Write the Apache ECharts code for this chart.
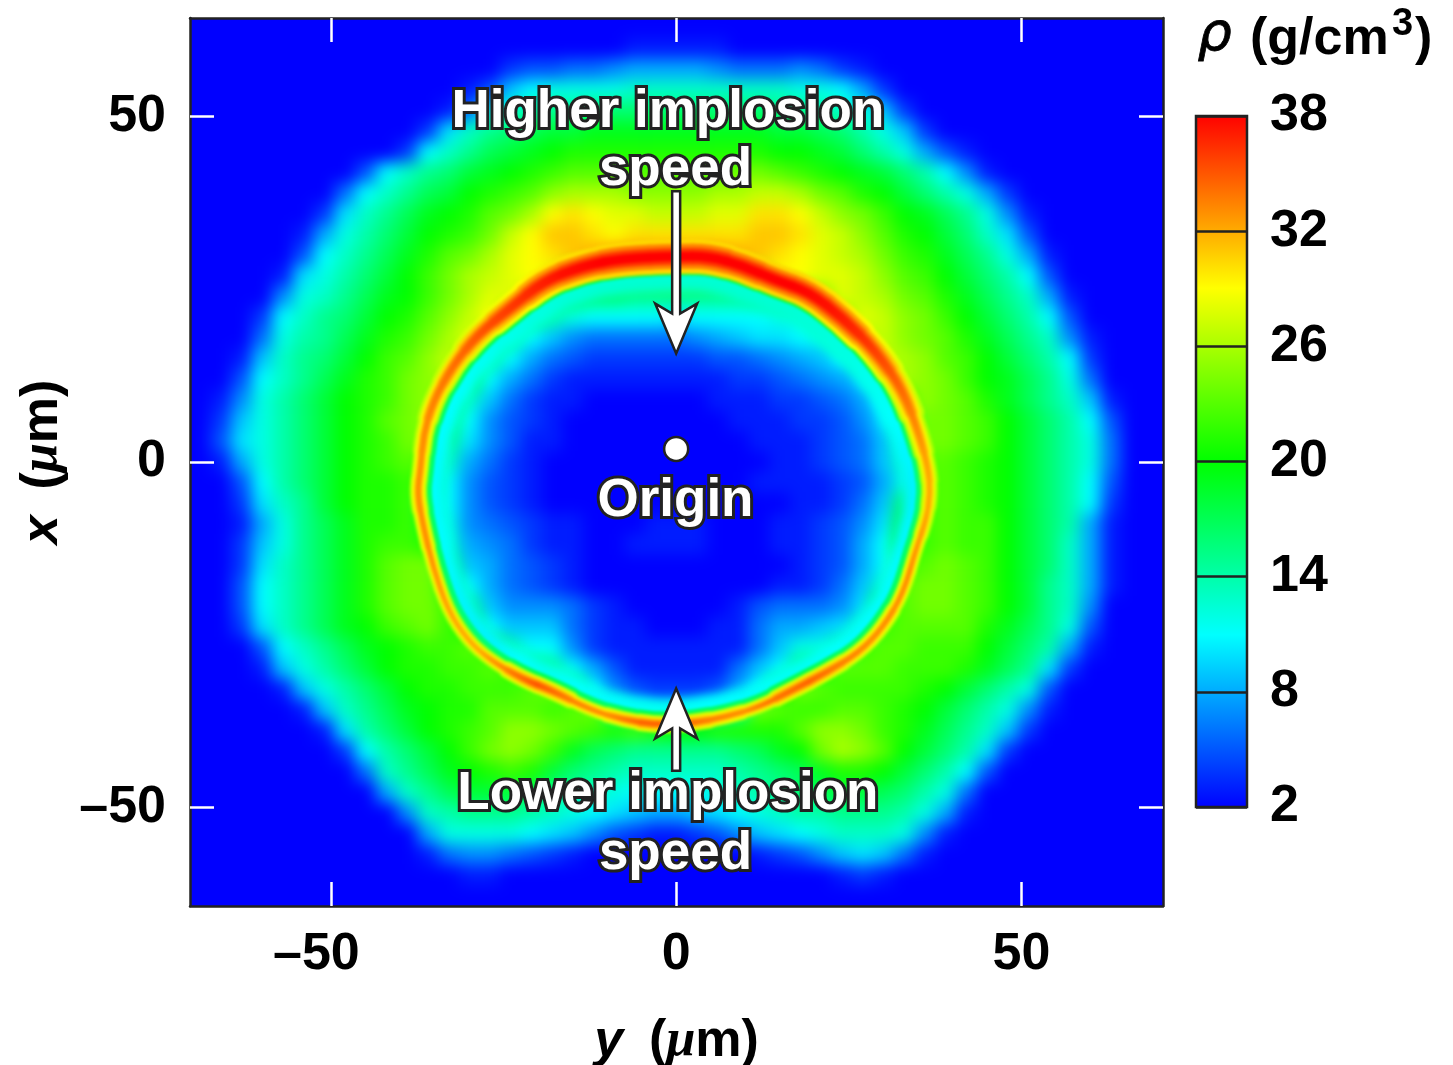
<!DOCTYPE html>
<html><head><meta charset="utf-8">
<style>
html,body{margin:0;padding:0;background:#fff}
#c{width:1453px;height:1065px}
canvas[data-zr-dom-id="zr_-3"]{filter:blur(8px);clip-path:inset(18px 290px 159px 190px)}
canvas[data-zr-dom-id="zr_-2"]{filter:blur(5px);clip-path:inset(18px 290px 159px 190px)}
canvas[data-zr-dom-id="zr_-1"]{filter:blur(1.8px);clip-path:inset(18px 290px 159px 190px)}
</style>
<script src="https://cdn.jsdelivr.net/npm/echarts@6/dist/echarts.min.js"></script>
</head><body><div id="c"></div>
<script>
// transverse position y (um) of each column, axial position x (um) of each row
const yCells=[-69,-66,-63,-60,-57,-54,-51,-48,-45,-42,-39,-36,-33,-30,-27,-24,-21,-18,-15,-12,-9,-6,-3,0,3,6,9,12,15,18,21,24,27,30,33,36,39,42,45,48,51,54,57,60,63,66,69];
const xCells=[63,60,57,54,51,48,45,42,39,36,33,30,27,24,21,18,15,12,9,6,3,0,-3,-6,-9,-12,-15,-18,-21,-24,-27,-30,-33,-36,-39,-42,-45,-48,-51,-54,-57,-60,-63];
// density (g/cm3), one row per xCells entry
const rho=[
[2,2,2,2,2,2,2,2,2,2,2,2,2,2,2,2,2,2,2,2,2,2,2,2,2,2,2,2,2,2,2,2,2,2,2,2,2,2,2,2,2,2,2,2,2,2,2],
[2,2,2,2,2,2,2,2,2,2,2,2,2,2,2,2,2,2,2,2,2,3,3,3,3,3,2,2,2,2,2,2,2,2,2,2,2,2,2,2,2,2,2,2,2,2,2],
[2,2,2,2,2,2,2,2,2,2,2,2,2,2,2,4,5,5,6,6,7,8,8,8,8,7,6,6,6,7,6,4,3,2,2,2,2,2,2,2,2,2,2,2,2,2,2],
[2,2,2,2,2,2,2,2,2,2,2,2,2,3,5,9,11,12,12,12,12,13,13,13,13,13,13,13,13,12,12,11,8,4,2,2,2,2,2,2,2,2,2,2,2,2,2],
[2,2,2,2,2,2,2,2,2,2,2,2,3,6,11,13,14,15,15,16,16,16,16,16,16,16,16,16,15,15,14,13,12,9,4,2,2,2,2,2,2,2,2,2,2,2,2],
[2,2,2,2,2,2,2,2,2,2,2,4,10,13,15,16,17,18,18,19,19,19,19,19,19,19,19,19,18,18,17,16,14,12,9,4,2,2,2,2,2,2,2,2,2,2,2],
[2,2,2,2,2,2,2,2,2,2,4,11,13,15,17,18,19,20,21,21,21,21,21,21,21,21,21,21,20,20,19,18,16,14,12,8,5,3,2,2,2,2,2,2,2,2,2],
[2,2,2,2,2,2,2,2,5,11,13,15,16,18,19,20,21,22,23,23,23,23,23,23,23,23,24,24,23,22,21,20,19,18,16,14,11,7,3,2,2,2,2,2,2,2,2],
[2,2,2,2,2,2,2,6,11,13,15,17,18,20,21,22,23,25,26,26,26,25,25,25,25,26,26,27,27,26,24,23,21,20,18,16,14,12,8,4,2,2,2,2,2,2,2],
[2,2,2,2,2,2,4,10,13,15,17,19,20,21,23,24,26,29,30,29,28,28,27,27,27,28,28,30,30,29,27,25,24,22,20,19,17,15,12,7,3,2,2,2,2,2,2],
[2,2,2,2,2,3,8,12,14,16,18,20,21,22,24,27,29,31,31,30,29,30,30,30,30,30,30,31,31,30,28,27,25,23,21,20,18,16,13,10,5,2,2,2,2,2,2],
[2,2,2,2,2,5,11,13,15,17,19,21,23,24,26,28,29,30,31,32,33,33,33,33,33,33,32,31,30,29,28,27,26,24,22,21,19,17,15,12,8,3,2,2,2,2,2],
[2,2,2,2,3,10,12,14,16,18,20,22,24,26,27,28,29,28,24,23,22,22,22,22,22,22,23,26,29,29,28,28,27,25,23,22,20,18,16,14,11,5,2,2,2,2,2],
[2,2,2,2,7,12,13,15,17,19,20,22,24,26,28,28,26,18,17,16,16,15,15,15,15,15,15,16,16,17,24,28,27,26,24,23,21,19,17,15,13,8,3,2,2,2,2],
[2,2,2,4,11,13,15,16,18,20,21,23,25,27,29,20,16,14,12,11,11,11,11,10,11,11,11,11,12,12,14,24,28,27,25,24,22,20,18,16,14,11,5,2,2,2,2],
[2,2,2,6,12,14,15,17,19,21,22,24,26,28,20,15,11,9,7,6,6,6,6,6,7,8,9,10,10,11,12,15,26,27,25,24,23,21,19,17,15,13,7,3,2,2,2],
[2,2,3,9,13,15,16,18,20,22,23,25,27,22,15,11,8,6,5,4,4,4,4,4,4,5,5,6,7,8,9,11,16,27,26,25,23,22,20,18,16,14,11,4,2,2,2],
[2,2,5,11,13,15,17,19,21,22,24,25,26,18,11,8,6,4,3,3,3,3,3,3,3,3,4,4,5,6,7,8,10,16,26,25,24,22,20,19,17,15,12,6,2,2,2],
[2,3,7,12,14,16,18,20,21,22,24,25,20,13,9,6,4,3,3,2,2,2,2,2,2,3,3,3,4,4,5,6,8,11,22,25,24,23,21,19,17,15,13,9,3,2,2],
[2,4,9,12,14,16,18,20,21,23,24,25,17,11,7,5,4,3,2,2,2,2,2,2,2,2,3,3,3,4,4,5,7,10,16,24,24,23,22,20,18,16,14,11,5,2,2],
[2,5,10,12,14,16,18,20,21,22,24,24,15,10,7,5,3,3,2,2,2,2,2,2,2,2,2,3,3,3,4,5,6,9,14,24,24,23,22,20,18,16,14,12,6,2,2],
[2,3,8,12,14,16,18,20,21,22,23,22,13,8,6,4,3,2,2,2,2,2,2,2,2,2,2,2,3,3,4,5,6,9,13,23,23,22,21,20,18,16,14,12,6,2,2],
[2,2,5,11,14,16,18,20,21,21,22,20,11,7,5,4,3,2,2,2,2,2,2,2,2,2,2,3,3,3,3,4,5,8,12,22,23,22,21,20,18,16,14,11,5,2,2],
[2,2,4,10,13,15,18,20,21,21,22,18,11,7,5,4,3,2,2,2,2,2,2,2,2,2,2,2,2,3,3,4,6,9,16,22,23,22,21,20,18,16,14,11,4,2,2],
[2,2,3,8,12,15,17,19,21,21,22,19,12,7,6,5,4,3,3,2,2,2,3,3,3,2,2,2,3,3,4,5,7,10,18,22,23,22,22,20,18,16,14,8,3,2,2],
[2,2,4,9,12,15,17,19,21,22,22,21,13,8,7,6,4,3,3,2,2,3,3,3,3,2,2,2,3,3,4,5,8,11,20,22,23,22,22,20,18,16,13,8,3,2,2],
[2,2,4,10,13,15,17,19,21,23,24,24,16,9,8,6,5,4,3,2,2,2,2,2,2,2,2,2,2,3,4,5,8,11,22,23,24,23,22,20,18,16,13,8,3,2,2],
[2,2,5,11,13,15,17,19,21,23,24,24,19,11,8,6,5,4,3,2,2,2,2,2,2,2,2,2,3,3,4,6,9,13,23,24,24,23,22,20,18,15,13,8,3,2,2],
[2,2,5,11,13,15,17,19,21,23,24,24,22,15,9,7,7,7,6,4,3,2,2,2,2,2,3,5,6,6,6,7,10,20,23,24,24,23,22,20,18,15,13,7,2,2,2],
[2,2,4,10,13,15,17,19,20,22,23,24,22,20,11,9,9,9,6,4,3,3,2,2,2,3,3,6,8,8,9,10,14,22,23,23,23,23,21,19,17,15,12,5,2,2,2],
[2,2,2,5,11,13,15,17,19,20,21,22,22,23,21,14,11,11,7,4,3,3,3,3,3,3,3,6,9,12,12,15,22,23,23,22,22,22,20,18,16,14,8,3,2,2,2],
[2,2,2,3,9,12,14,16,18,20,21,21,22,22,23,22,17,15,11,8,5,3,3,3,3,3,6,9,11,16,19,23,23,23,22,22,22,21,19,17,15,10,4,2,2,2,2],
[2,2,2,2,3,9,12,14,16,18,20,21,21,22,22,22,23,24,19,11,7,5,4,4,4,5,8,11,20,24,23,22,22,22,22,21,20,18,16,14,12,5,2,2,2,2,2],
[2,2,2,2,2,3,9,13,15,17,19,20,21,21,23,23,23,22,23,24,14,10,8,8,8,10,14,24,23,22,22,23,23,22,21,20,18,16,14,12,7,3,2,2,2,2,2],
[2,2,2,2,2,2,3,10,14,16,18,20,21,22,23,25,25,24,23,22,21,22,21,20,20,21,21,21,21,23,25,25,24,22,21,19,17,15,13,9,4,2,2,2,2,2,2],
[2,2,2,2,2,2,2,4,11,14,16,18,20,22,24,25,24,22,19,17,16,15,15,15,15,15,16,17,19,20,24,26,25,23,20,18,16,14,10,4,2,2,2,2,2,2,2],
[2,2,2,2,2,2,2,2,6,13,15,17,19,20,21,22,21,18,16,15,14,13,13,13,13,13,14,15,16,17,19,21,21,20,18,16,14,11,5,2,2,2,2,2,2,2,2],
[2,2,2,2,2,2,2,2,2,8,13,15,17,18,18,18,17,15,14,13,12,11,11,11,11,12,13,14,15,16,17,18,18,17,16,14,12,6,2,2,2,2,2,2,2,2,2],
[2,2,2,2,2,2,2,2,2,2,7,13,14,15,15,15,14,13,12,11,10,9,8,8,9,10,11,12,13,14,14,15,15,15,14,12,8,3,2,2,2,2,2,2,2,2,2],
[2,2,2,2,2,2,2,2,2,2,2,8,12,12,12,12,11,10,9,7,5,4,3,3,4,5,7,9,10,11,12,13,13,13,12,7,3,2,2,2,2,2,2,2,2,2,2],
[2,2,2,2,2,2,2,2,2,2,2,3,6,7,7,6,5,4,3,2,2,2,2,2,2,2,2,3,4,5,7,9,10,9,6,3,2,2,2,2,2,2,2,2,2,2,2],
[2,2,2,2,2,2,2,2,2,2,2,2,2,3,3,2,2,2,2,2,2,2,2,2,2,2,2,2,2,2,2,3,4,3,2,2,2,2,2,2,2,2,2,2,2,2,2],
[2,2,2,2,2,2,2,2,2,2,2,2,2,2,2,2,2,2,2,2,2,2,2,2,2,2,2,2,2,2,2,2,2,2,2,2,2,2,2,2,2,2,2,2,2,2,2]
];
// the thin dense shell: centre-line y, x (um), peak density, thickness (um)
const shellY=[-37,-36.6,-35.2,-32.3,-28.8,-24,-19.2,-13.5,-7.7,0,4.8,9.7,14.5,19.2,24.2,28.9,32.9,35.2,36.5,36.8,36.2,34.7,32.9,30,26.5,21.7,16.9,12,7.2,2.5,-2.7,-7.7,-12.4,-18.2,-22.1,-26.9,-30.2,-33.1,-35.2,-36.6,-37.5];
const shellX=[-0.9,3.9,8.8,14,18.4,22.3,26.2,28.4,29.5,29.8,29.8,28.4,26.3,24.7,20.8,16.1,10.3,3.9,-0.9,-4.5,-8.4,-12.7,-19,-23.9,-27.6,-30.5,-33,-35.5,-36.9,-37.8,-38.1,-37.3,-35.9,-33,-31.5,-28.7,-25.8,-21.4,-15.2,-9.4,-4.5];
const shellRho=[33,33,33.5,34,35,36,37,38,38,38,38,38,38,38,37,36,34,33,32,32,32,33,33,33,33,34,35,33,33,34,35,34,32,35,35,32,32,32,33,33,33];
const shellW=[1.2,1.3,1.5,1.6,1.8,2,2.2,2.3,2.4,2.4,2.4,2.3,2.2,2.2,2.2,2,1.8,1.5,1.3,1.2,1.1,1,1,1.1,1.1,1.2,1.2,1,1.1,1.2,1.2,1.1,1,1.2,1.2,1,1,1,1,1.1,1.2];
const axisTicks=[-50,0,50];
const jet=['#0000ff','#00ffff','#00ff00','#ffff00','#ff0000'];
const notes=[['Higher implosion',-1.2,50.6],['speed',-0.1,42.2],['Origin',-0.1,-5.7],['Lower implosion',-1.2,-48.2],['speed',-0.1,-56.8]];
const arrows=[[0,39.2,0,15.7],[0,-44.7,0,-32.8]];
const originPoint=[[0,1.9]];

const FONT='"Liberation Sans",Arial,sans-serif';
const INK='#222222';
const PLOT={left:190,top:18,width:973,height:888,outerBoundsMode:'none'};
const col=v=>echarts.color.lerp(Math.min(1,Math.max(0,(v-2)/36)),jet);
const unitRich={i:{fontStyle:'italic',fontWeight:'bold',fontSize:52,fontFamily:FONT},m:{fontStyle:'italic',fontWeight:'bold',fontSize:52,fontFamily:'"Liberation Serif",serif'},t:{fontWeight:'bold',fontSize:52,fontFamily:FONT}};
const heatData=[];
rho.forEach((row,r)=>row.forEach((v,c)=>heatData.push([c,r,v])));
function shellPass(valueScale,widthScale,z,inward,layer){
  const n=shellY.length,cy=0,cx=-4;
  const pt=(i,api)=>{const k=(i+n)%n,f=1-inward;return api.coord([cy+(shellY[k]-cy)*f,cx+(shellX[k]-cx)*f]);};
  return {type:'custom',xAxisIndex:0,yAxisIndex:0,coordinateSystem:'cartesian2d',zlevel:layer,z:z,silent:true,clip:false,
    data:shellY.map((y,i)=>[y,shellX[i]]),
    renderItem(p,api){
      const i=p.dataIndex,a=pt(i-1,api),m=pt(i,api),b=pt(i+1,api);
      const s=[(a[0]+m[0])/2,(a[1]+m[1])/2],e=[(m[0]+b[0])/2,(m[1]+b[1])/2];
      const v0=(shellRho[(i-1+n)%n]+shellRho[i])/2,v1=(shellRho[i]+shellRho[(i+1)%n])/2;
      const pxPerUm=6.91,w=shellW[i]*pxPerUm*widthScale;
      return {type:'bezierCurve',shape:{x1:s[0],y1:s[1],x2:e[0],y2:e[1],cpx1:m[0],cpy1:m[1]},
        style:{lineWidth:w,lineCap:'round',fill:null,
          stroke:new echarts.graphic.LinearGradient(s[0],s[1],e[0],e[1],[{offset:0,color:col(v0*valueScale)},{offset:1,color:col(v1*valueScale)}],true)}};
    }};
}
const chart=echarts.init(document.getElementById('c'),null,{renderer:'canvas'});
const valueAxisBase={type:'value',splitLine:{show:false},
  axisLine:{show:true,onZero:false,lineStyle:{color:INK,width:2.5}},
  axisTick:{show:true,inside:true,length:24,lineStyle:{color:'#ffffff',width:2.5},customValues:axisTicks}};
const tickLabel={show:true,customValues:axisTicks,fontFamily:FONT,fontWeight:'bold',fontSize:52,color:'#000'};
const tickRich={d:{fontFamily:FONT,fontWeight:'bold',fontSize:52,color:'#000'},p:{width:29,fontSize:52}};
chart.setOption({
  animation:false,
  backgroundColor:'transparent',
  grid:[
    Object.assign({},PLOT,{show:true,backgroundColor:'#0000ff',borderWidth:0,zlevel:-4}),
    Object.assign({},PLOT),
    {left:1196,top:116,width:51,height:691,outerBoundsMode:'none'}
  ],
  xAxis:[
    Object.assign({},valueAxisBase,{gridIndex:0,position:'bottom',min:-70.4,max:70.5,
      axisLabel:Object.assign({},tickLabel,{margin:23,rich:tickRich,formatter:v=>v<0?'{d|\u2013'+(-v)+'}{p| }':'{d|'+v+'}'}),
      name:'{i|y}\u2002({m|\u03bc}{t|m})',nameLocation:'middle',nameGap:110,nameTextStyle:{rich:unitRich,fontWeight:'bold',fontSize:52,fontFamily:FONT,color:'#000'}}),
    Object.assign({},valueAxisBase,{gridIndex:0,position:'top',min:-70.4,max:70.5,axisLabel:{show:false}}),
    {type:'category',gridIndex:1,data:yCells,show:false},
    {type:'value',gridIndex:2,min:0,max:1,show:false}
  ],
  yAxis:[
    Object.assign({},valueAxisBase,{gridIndex:0,position:'left',min:-64.3,max:64.3,
      axisLabel:Object.assign({},tickLabel,{margin:24,formatter:v=>String(v).replace('-','\u2013')}),
      name:'{i|x}\u2002({m|\u03bc}{t|m})',nameLocation:'middle',nameGap:112,nameRotate:90,nameTextStyle:{rich:unitRich,fontWeight:'bold',fontSize:52,fontFamily:FONT,color:'#000'}}),
    Object.assign({},valueAxisBase,{gridIndex:0,position:'right',min:-64.3,max:64.3,axisLabel:{show:false}}),
    {type:'category',gridIndex:1,data:xCells,inverse:true,show:false},
    {type:'value',gridIndex:2,position:'right',min:2,max:38,interval:6,z:6,splitLine:{show:false},
      axisLine:{show:false,onZero:false},
      axisTick:{show:true,inside:true,length:51,lineStyle:{color:INK,width:2.5}},
      axisLabel:{show:true,margin:23,fontFamily:FONT,fontWeight:'bold',fontSize:52,color:'#000'}}
  ],
  visualMap:{show:false,seriesIndex:0,min:2,max:38,dimension:2,inRange:{color:jet}},
  series:[
    {type:'heatmap',xAxisIndex:2,yAxisIndex:2,data:heatData,zlevel:-3,silent:true,itemStyle:{borderWidth:0},emphasis:{disabled:true}},
    shellPass(0.33,2.6,1,0.06,-2),
    shellPass(0.5,1.5,1,0.028,-1),
    shellPass(0.8,2.1,2,0,-1),shellPass(0.88,1.5,3,0,-1),shellPass(0.95,1.0,4,0,-1),shellPass(1,0.55,5,0,-1),
    {type:'custom',xAxisIndex:3,yAxisIndex:3,coordinateSystem:'cartesian2d',silent:true,z:3,data:[[0,2,1,38]],clip:false,
      renderItem(p,api){
        const a=api.coord([api.value(0),api.value(3)]),b=api.coord([api.value(2),api.value(1)]);
        return {type:'rect',shape:{x:a[0],y:a[1],width:b[0]-a[0],height:b[1]-a[1]},
          style:{stroke:INK,lineWidth:2.5,fill:new echarts.graphic.LinearGradient(0,1,0,0,jet.map((c,i)=>({offset:i/(jet.length-1),color:c})))}};
      }},
    {type:'custom',xAxisIndex:0,yAxisIndex:0,coordinateSystem:'cartesian2d',silent:true,z:6,data:arrows,clip:false,
      renderItem(p,api){
        const tail=api.coord([api.value(0),api.value(1)]),tip=api.coord([api.value(2),api.value(3)]);
        const d=tip[1]>tail[1]?1:-1,cx=tip[0],t=tip[1],b=tail[1];
        return {type:'polygon',shape:{points:[[cx-4,b],[cx-4,t-d*40],[cx-21,t-d*50],[cx,t],[cx+21,t-d*50],[cx+4,t-d*40],[cx+4,b]]},
          style:{fill:'#fff',stroke:INK,lineWidth:2.5,lineJoin:'miter'}};
      }},
    {type:'scatter',xAxisIndex:0,yAxisIndex:0,data:originPoint,symbol:'circle',symbolSize:24,silent:true,z:6,
      itemStyle:{color:'#fff',borderColor:INK,borderWidth:2.5,opacity:1}},
    {type:'custom',xAxisIndex:0,yAxisIndex:0,coordinateSystem:'cartesian2d',silent:true,z:7,data:notes.map(n=>[n[1],n[2]]),clip:false,
      renderItem(p,api){
        const n=notes[p.dataIndex],c=api.coord([n[1],n[2]]);
        return {type:'text',x:c[0],y:c[1],style:{text:n[0],align:'center',verticalAlign:'middle',font:'bold 53px '+FONT,fill:'#fff',stroke:INK,lineWidth:6,strokeFirst:true,lineJoin:'round'}};
      }}
  ],
  graphic:[
    {type:'text',left:1197,top:9,silent:true,style:{text:'\u03c1',font:'italic 54px "DejaVu Sans",sans-serif',fill:'#000',stroke:'#000',lineWidth:0.8}},
    {type:'text',left:1250,top:14,silent:true,style:{text:'(g/cm',font:'bold 52px '+FONT,fill:'#000'}},
    {type:'text',left:1392,top:6,silent:true,style:{text:'3',font:'bold 38px '+FONT,fill:'#000'}},
    {type:'text',left:1415,top:14,silent:true,style:{text:')',font:'bold 52px '+FONT,fill:'#000'}}
  ]
});
</script></body></html>
